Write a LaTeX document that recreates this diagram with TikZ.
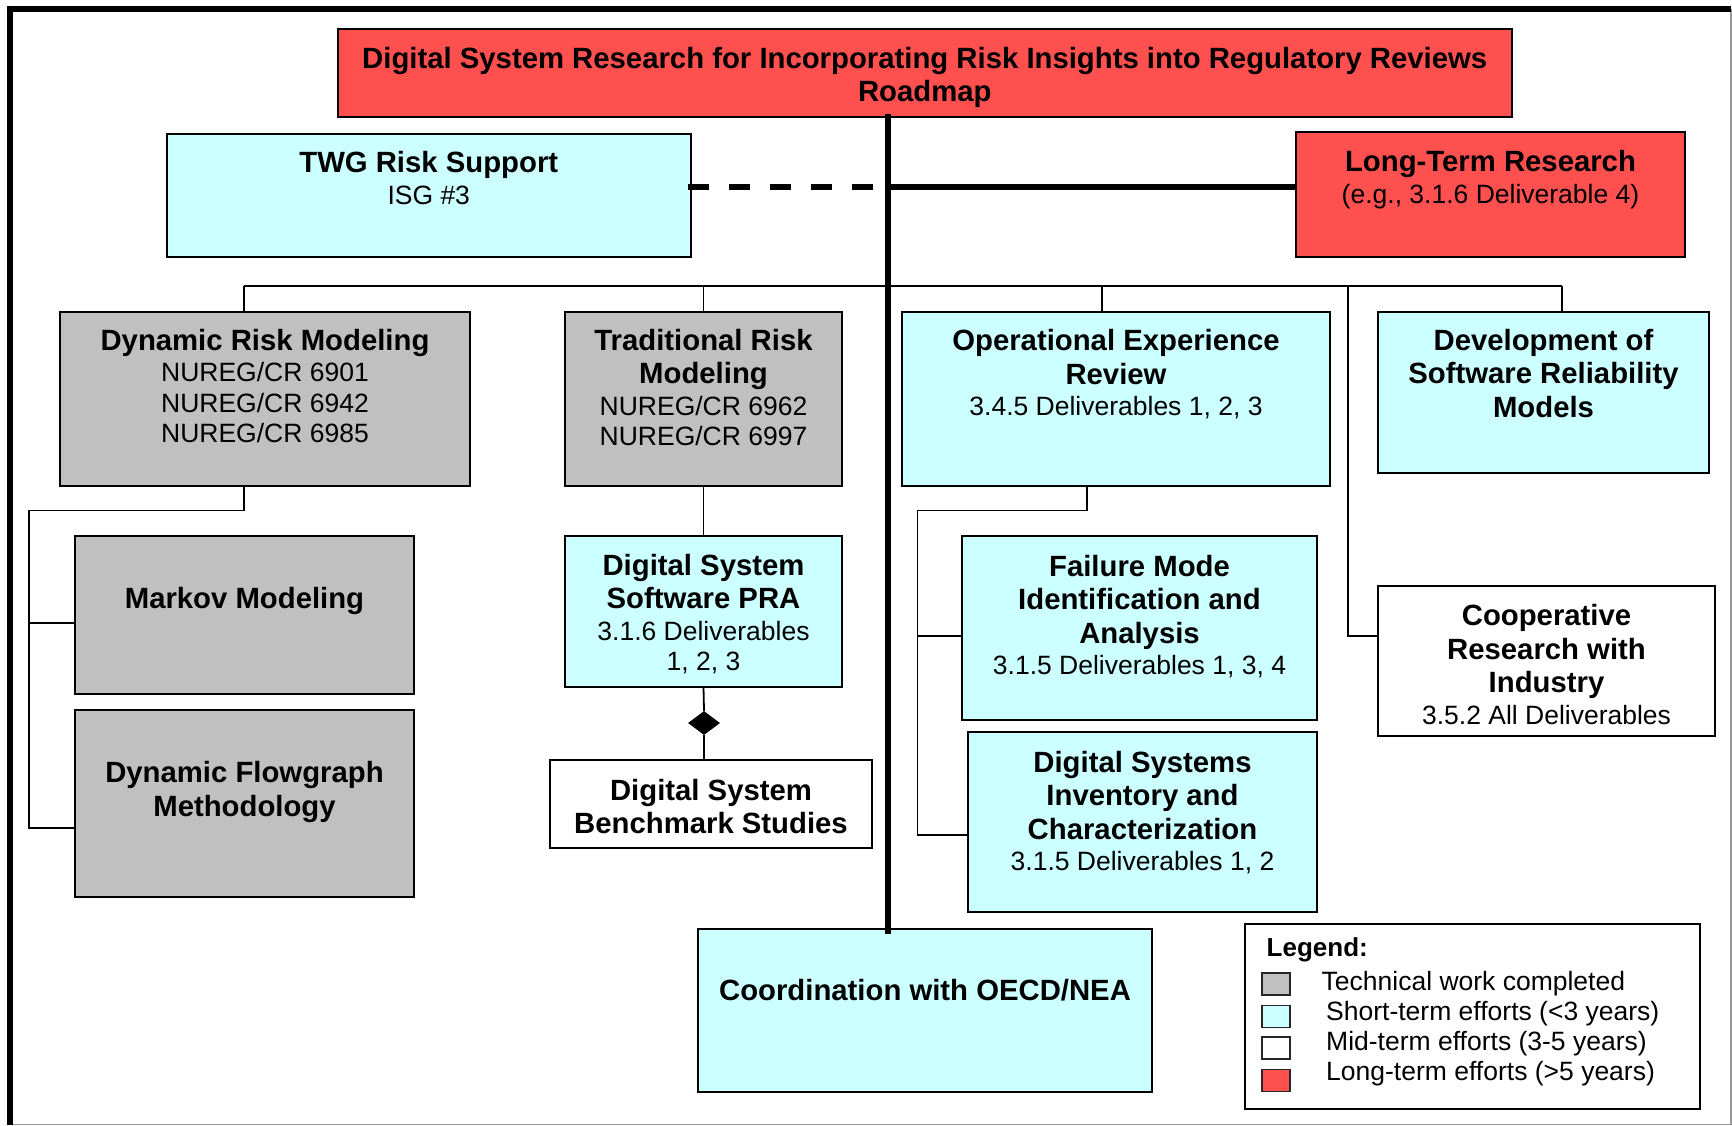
\documentclass[tikz,border=0pt]{standalone}
\usepackage{fontspec}
\setmainfont{Liberation Sans}
\usetikzlibrary{shapes.geometric}
\definecolor{termshort}{HTML}{CCFFFF}
\definecolor{termdone}{HTML}{C0C0C0}
\definecolor{termlong}{HTML}{FF5050}
\newcommand\boxhead[1]{{\fontsize{29.3}{30.5}\selectfont\bfseries #1}}
\begin{document}
\begin{tikzpicture}[x=1pt,y=-1pt,
  task/.style={draw=black, line width=2pt, inner sep=0pt, outer sep=0pt, anchor=north west},
  stdone/.style={task, fill=termdone},
  stshort/.style={task, fill=termshort},
  stmid/.style={task, fill=white},
  stlong/.style={task, fill=termlong},
  boxtext/.style={anchor=north, align=center, inner sep=0pt, font=\fontsize{26.5}{30.5}\selectfont},
  conn/.style={line width=1.8pt},
  spine/.style={line width=6pt},
  swatch/.style={draw=black!85, line width=1.5pt, minimum width=28pt, minimum height=22pt, inner sep=0pt, anchor=north west},
  legtext/.style={anchor=base west, inner sep=0pt, font=\fontsize{26.5}{30}\selectfont},
]
\useasboundingbox (0,0) rectangle (1732,1126);
\fill[white] (0,0) rectangle (1732,1126);

% page frame: heavy top and left edges, light right and bottom edges
\draw[black!40, line width=1.5pt] (1731,9) -- (1731,1124.5) -- (10,1124.5);
\draw[line width=6pt] (7,9) -- (1731,9);
\draw[line width=6pt] (10,6) -- (10,1125);

% boxes
\node[stlong, minimum width=1174.5pt, minimum height=87.5pt,
  label={[boxtext, yshift=-18pt]north:{\boxhead{Digital System Research for Incorporating Risk Insights into Regulatory Reviews}\\[2.5pt]\boxhead{Roadmap}}}]
  (title) at (337.5,29.5) {};
\node[stshort, minimum width=524.5pt, minimum height=123pt,
  label={[boxtext, yshift=-17.5pt]north:{\boxhead{TWG Risk Support}\\[1pt]ISG \#3}}]
  (twg) at (166.5,134) {};
\node[stlong, minimum width=389pt, minimum height=125pt,
  label={[boxtext, yshift=-18.5pt]north:{\boxhead{Long-Term Research}\\[1pt](e.g., 3.1.6 Deliverable 4)}}]
  (lt) at (1296,132) {};

\node[stdone, minimum width=410pt, minimum height=174pt,
  label={[boxtext, yshift=-17pt]north:{\boxhead{Dynamic Risk Modeling}\\[1pt]NUREG/CR 6901\\NUREG/CR 6942\\NUREG/CR 6985}}]
  (drm) at (60,311.6) {};
\node[stdone, minimum width=277pt, minimum height=174pt,
  label={[boxtext, yshift=-17pt]north:{\boxhead{Traditional Risk}\\[3pt]\boxhead{Modeling}\\[1pt]NUREG/CR 6962\\NUREG/CR 6997}}]
  (trm) at (565,311.6) {};
\node[stshort, minimum width=428pt, minimum height=174.4pt,
  label={[boxtext, yshift=-17.5pt]north:{\boxhead{Operational Experience}\\[3pt]\boxhead{Review}\\[1pt]3.4.5 Deliverables 1, 2, 3}}]
  (oer) at (902,311.6) {};
\node[stshort, minimum width=331pt, minimum height=161.4pt,
  label={[boxtext, yshift=-17pt]north:{\boxhead{Development of}\\[3pt]\boxhead{Software Reliability}\\[3pt]\boxhead{Models}}}]
  (dsw) at (1378,311.6) {};

\node[stdone, minimum width=339pt, minimum height=158pt,
  label={[boxtext, yshift=-51.5pt]north:{\boxhead{Markov Modeling}}}]
  (markov) at (75,536) {};
\node[stdone, minimum width=339pt, minimum height=187pt,
  label={[boxtext, yshift=-51.5pt]north:{\boxhead{Dynamic Flowgraph}\\[3pt]\boxhead{Methodology}}}]
  (dfm) at (75,710) {};

\node[stshort, minimum width=277pt, minimum height=151.3pt,
  label={[boxtext, yshift=-18pt]north:{\boxhead{Digital System}\\[3pt]\boxhead{Software PRA}\\[1pt]3.1.6 Deliverables\\1, 2, 3}}]
  (pra) at (565,536) {};
\node[stmid, minimum width=322pt, minimum height=87.8pt,
  label={[boxtext, yshift=-18.5pt]north:{\boxhead{Digital System}\\[3pt]\boxhead{Benchmark Studies}}}]
  (bench) at (550,760.4) {};

\node[stshort, minimum width=355pt, minimum height=183.5pt,
  label={[boxtext, yshift=-18.5pt]north:{\boxhead{Failure Mode}\\[3pt]\boxhead{Identification and}\\[3pt]\boxhead{Analysis}\\[1pt]3.1.5 Deliverables 1, 3, 4}}]
  (fmia) at (962,536.2) {};
\node[stshort, minimum width=349pt, minimum height=180pt,
  label={[boxtext, yshift=-19pt]north:{\boxhead{Digital Systems}\\[3pt]\boxhead{Inventory and}\\[3pt]\boxhead{Characterization}\\[1pt]3.1.5 Deliverables 1, 2}}]
  (dsic) at (968,732) {};
\node[stmid, minimum width=337pt, minimum height=150pt,
  label={[boxtext, yshift=-18.5pt]north:{\boxhead{Cooperative}\\[3pt]\boxhead{Research with}\\[3pt]\boxhead{Industry}\\[1pt]3.5.2 All Deliverables}}]
  (coop) at (1378,585.7) {};

\node[stshort, minimum width=454pt, minimum height=163pt,
  label={[boxtext, yshift=-50.3pt]north:{\boxhead{Coordination with OECD/NEA}}}]
  (coord) at (698,929) {};

% aggregation marker between the PRA and benchmark boxes
\node[diamond, fill=black, minimum width=32pt, minimum height=24pt, inner sep=0pt] (agg) at (704,723) {};

% legend
\node[stmid, minimum width=455pt, minimum height=185pt] (legend) at (1245,924) {};
\node[anchor=base west, inner sep=0pt, font=\fontsize{26}{30}\selectfont\bfseries] (legtitle) at (1266.5,956.5) {Legend:};
\node[swatch, fill=termdone]  (sw1) at (1261,972) {};
\node[swatch, fill=termshort] (sw2) at (1261,1004.5) {};
\node[swatch, fill=white]     (sw3) at (1261,1036) {};
\node[swatch, fill=termlong]  (sw4) at (1261,1068.5) {};
\node[legtext] (lg1) at (1321.5,990) {Technical work completed};
\node[legtext] (lg2) at (1326,1020.5) {Short-term efforts (<3 years)};
\node[legtext] (lg3) at (1326,1050.5) {Mid-term efforts (3-5 years)};
\node[legtext] (lg4) at (1326,1080.5) {Long-term efforts (>5 years)};

% junction points
\coordinate (hub) at (888,187);
\coordinate (busL) at (244,286);
\coordinate (busO) at (1102,286);
\coordinate (busC) at (1348,286);
\coordinate (busR) at (1562,286);
\coordinate (coopK) at (1348,636);
\coordinate (drmK) at (244,510.5);
\coordinate (drmL) at (29,510.5);
\coordinate (mkvK) at (29,623);
\coordinate (dfgK) at (29,828);
\coordinate (oerK) at (1087,510.5);
\coordinate (oerL) at (917.5,510.5);
\coordinate (fmK) at (917.5,636);
\coordinate (dsK) at (917.5,835);

% connectors
\draw[conn] (busL) -- (busR);
\draw[conn] (busL) -- (busL |- drm.north);
\draw[conn] (trm.north |- busL) -- (trm.north);
\draw[conn] (busO) -- (busO |- oer.north);
\draw[conn] (busR) -- (busR |- dsw.north);
\draw[conn] (busC) -- (coopK) -- (coopK -| coop.west);

\draw[conn] (drmK |- drm.south) -- (drmK) -- (drmL) -- (dfgK) -- (dfgK -| dfm.west);
\draw[conn] (mkvK) -- (mkvK -| markov.west);

\draw[conn] (oerK |- oer.south) -- (oerK) -- (oerL) -- (dsK) -- (dsK -| dsic.west);
\draw[conn] (fmK) -- (fmK -| fmia.west);

\draw[conn] (trm.south) -- (pra.north);
\draw[conn] (pra.south) -- (agg.north);
\draw[conn] (agg.south) -- (agg.south |- bench.north);

% main spine and the links to the top-level efforts
\draw[spine] ([yshift=3pt]title.south -| hub) -- ([yshift=-5pt]coord.north -| hub);
\draw[spine, dash pattern=on 21pt off 20pt] ([xshift=-3pt]twg.east |- hub) -- ([xshift=-3pt]hub);
\draw[spine] (hub) -- (lt.west |- hub);
\end{tikzpicture}
\end{document}
